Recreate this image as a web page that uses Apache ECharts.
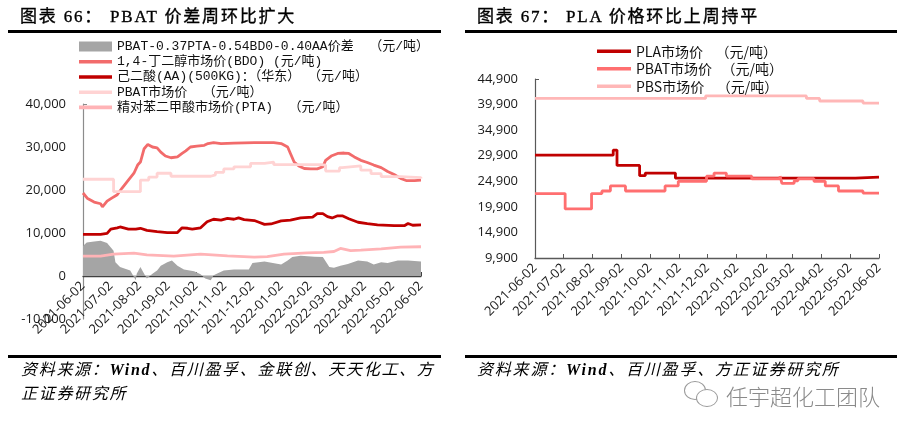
<!DOCTYPE html>
<html>
<head>
<meta charset="utf-8">
<script src="https://cdn.jsdelivr.net/npm/echarts@6/dist/echarts.min.js"></script>
<style>
html,body{margin:0;padding:0;background:#fff;}
#wrap{position:relative;width:908px;height:434px;overflow:hidden;}
#main{position:absolute;left:0;top:0;width:908px;height:434px;}
.tt{position:absolute;top:6px;font-family:"Liberation Serif","Noto Sans CJK SC",serif;font-size:17px;line-height:22px;color:#000;white-space:pre;letter-spacing:1.8px;-webkit-text-stroke:0.35px #000;}
.rule{position:absolute;height:3px;background:#000;}
.src{position:absolute;top:358px;font-family:"Liberation Serif","Noto Sans CJK SC",serif;font-style:italic;font-size:16px;line-height:24px;color:#000;white-space:pre;}
.wm{position:absolute;left:726px;top:381px;font-family:"Noto Sans CJK SC",sans-serif;font-weight:300;font-size:22px;line-height:28px;color:#8a8a8a;white-space:pre;}
.bub{position:absolute;border:1.2px solid #9a9a9a;border-radius:50%;background:#fff;}
</style>
</head>
<body>
<div id="wrap">
  <div id="main"></div>
  <div class="tt" style="left:20px">图表 66：</div>
  <div class="tt" style="left:110px">PBAT 价差周环比扩大</div>
  <div class="rule" style="left:8px;top:30px;width:433px"></div>
  <div class="tt" style="left:477px">图表 67：</div>
  <div class="tt" style="left:566px">PLA 价格环比上周持平</div>
  <div class="rule" style="left:465px;top:30px;width:432px"></div>
  <div class="rule" style="left:8px;top:355px;width:433px"></div>
  <div class="rule" style="left:465px;top:355px;width:432px"></div>
  <div class="src" style="left:21px;letter-spacing:1.7px">资料来源：<b>Wind</b>、百川盈孚、金联创、天天化工、方<br>正证券研究所</div>
  <div class="src" style="left:477px;letter-spacing:1.8px">资料来源：<b>Wind</b>、百川盈孚、方正证券研究所</div>
  <div class="bub" style="left:684px;top:381px;width:20px;height:17px"></div>
  <div class="bub" style="left:696px;top:389px;width:20px;height:16px"></div>
  <div class="wm">任宇超化工团队</div>
</div>
<script>
// axis ticks
var monthTicks = ['2021-06-02','2021-07-02','2021-08-02','2021-09-02','2021-10-02','2021-11-02',
  '2021-12-02','2022-01-02','2022-02-02','2022-03-02','2022-04-02','2022-05-02','2022-06-02'];
var leftYTicks = [-10000, 0, 10000, 20000, 30000, 40000];
var rightYTicks = [9900, 14900, 19900, 24900, 29900, 34900, 39900, 44900];

// 图表66
var spreadDates = ['2021-06-02','2021-06-06','2021-06-14','2021-06-21','2021-06-28','2021-07-05','2021-07-07','2021-07-12',
  '2021-07-23','2021-07-29','2021-07-30','2021-08-03','2021-08-07','2021-08-10','2021-08-16','2021-08-21','2021-08-25',
  '2021-09-01','2021-09-06','2021-09-12','2021-09-19','2021-09-30','2021-10-07','2021-10-12','2021-10-18','2021-10-21',
  '2021-11-01','2021-11-12','2021-11-28','2021-12-02','2021-12-15','2022-01-02','2022-01-09','2022-01-14','2022-01-23',
  '2022-02-07','2022-02-16','2022-02-23','2022-02-28','2022-03-07','2022-03-15','2022-03-26','2022-04-05','2022-04-12',
  '2022-04-20','2022-04-27','2022-05-08','2022-05-19','2022-06-02'];
var spreadValues = [7000,7800,8000,8200,7700,5900,3200,2100,1300,-1000,500,2100,500,-600,500,1300,2400,
  3200,3600,2400,1500,1100,400,-600,-1000,200,1300,1500,1500,3000,3400,2700,3600,4400,4700,
  4500,4400,2100,1900,2400,2800,3600,3400,2700,3200,3000,3600,3600,3400];

var bdoDates = ['2021-06-02','2021-06-07','2021-06-14','2021-06-21','2021-06-23','2021-06-28','2021-07-03','2021-07-09',
  '2021-07-14','2021-07-21','2021-07-27','2021-07-31','2021-08-03','2021-08-07','2021-08-11','2021-08-16','2021-08-21',
  '2021-08-25','2021-08-30','2021-09-05','2021-09-12','2021-09-17','2021-09-21','2021-09-26','2021-10-03','2021-10-11',
  '2021-10-15','2021-10-21','2021-10-29','2021-11-12','2021-12-04','2021-12-25','2022-01-02','2022-01-09','2022-01-12',
  '2022-01-16','2022-01-21','2022-01-27','2022-02-03','2022-02-10','2022-02-16','2022-02-19','2022-02-25','2022-03-04',
  '2022-03-11','2022-03-16','2022-03-22','2022-03-29','2022-04-05','2022-04-12','2022-04-20','2022-04-27','2022-05-04',
  '2022-05-11','2022-05-17','2022-05-26','2022-06-02'];
var bdoValues = [19300,18000,17200,16800,16100,17400,18100,18900,20400,22300,23900,25800,26500,29600,30600,30000,29800,
  28800,27900,27500,27700,28500,29100,30000,30200,30400,30800,31000,30800,30900,31000,31000,30800,30000,28500,
  26500,25600,25000,24900,24900,25400,26900,27900,28500,28600,28500,27700,26900,26400,25800,25200,24300,23600,
  22700,22200,22200,22300];

var aaDates = ['2021-06-02','2021-06-21','2021-06-28','2021-07-02','2021-07-09','2021-07-12','2021-07-21','2021-07-29',
  '2021-08-03','2021-08-10','2021-08-21','2021-09-01','2021-09-12','2021-09-17','2021-09-23','2021-09-28','2021-10-07',
  '2021-10-14','2021-10-21','2021-10-29','2021-11-05','2021-11-12','2021-11-17','2021-11-23','2021-12-04','2021-12-09',
  '2021-12-15','2021-12-22','2022-01-02','2022-01-12','2022-01-23','2022-02-05','2022-02-10','2022-02-16','2022-02-21',
  '2022-02-26','2022-03-04','2022-03-09','2022-03-16','2022-03-26','2022-04-05','2022-04-16','2022-05-04','2022-05-15',
  '2022-05-19','2022-05-24','2022-06-02'];
var aaValues = [9700,9700,9900,10900,11200,11400,10900,10900,11100,10600,10300,10100,10100,11200,11100,10900,11200,
  12600,13200,13000,13400,13200,13500,13100,12900,12500,12000,12100,12800,13000,13500,13700,14500,14500,13800,
  13500,14000,14000,13300,12500,12200,11900,11700,11700,12200,11800,11900];

var pbatLDates = ['2021-06-02','2021-07-05','2021-08-03','2021-08-12','2021-08-21','2021-09-05','2021-10-18','2021-10-23',
  '2021-11-01','2021-11-12','2021-11-30','2021-12-15','2021-12-25','2022-02-14','2022-02-19','2022-03-06','2022-03-09',
  '2022-03-29','2022-04-09','2022-04-20','2022-05-11','2022-06-02'];
var pbatLValues = [22500,19600,22300,23000,23900,23200,23500,24100,24900,25400,26200,26500,25900,25800,24400,25200,25600,
  24600,23800,23100,22900,22700];

var ptaDates = ['2021-06-02','2021-06-21','2021-07-05','2021-07-27','2021-08-10','2021-09-08','2021-10-07','2021-11-05',
  '2021-12-04','2021-12-18','2022-01-05','2022-01-30','2022-02-17','2022-02-28','2022-03-07','2022-03-18','2022-03-29',
  '2022-04-20','2022-05-11','2022-06-02'];
var ptaValues = [4600,4600,5100,5300,4900,4600,5100,4700,4400,4500,5100,5400,5500,5700,6400,5900,6000,6300,6700,6800];

// 图表67
var plaDates = ['2021-06-02','2021-08-24','2021-08-28','2021-09-21','2021-09-27','2021-10-29','2022-05-08','2022-06-02'];
var plaValues = [30000,31000,28000,26000,26500,25500,25700,25700];

var pbatRDates = ['2021-06-02','2021-07-04','2021-08-01','2021-08-12','2021-08-21','2021-09-06','2021-10-18','2021-11-01',
  '2021-12-01','2021-12-09','2021-12-22','2022-01-18','2022-02-17','2022-02-19','2022-03-04','2022-03-08','2022-03-25',
  '2022-04-06','2022-04-20','2022-05-16','2022-06-02'];
var pbatRValues = [22500,19500,22500,23000,24000,23000,24000,24900,25900,26500,25900,25400,25900,24500,25000,25400,24900,
  24000,23000,22600,22600];

var pbsDates = ['2021-06-02','2021-11-30','2022-03-17','2022-03-31','2022-05-16','2022-06-02'];
var pbsValues = [41100,41600,41100,40600,40200,40200];

var nSpread = 'PBAT-0.37PTA-0.54BD0-0.40AA价差  （元/吨）';
var nBdo = '1,4-丁二醇市场价(BDO) (元/吨)';
var nAa = '己二酸(AA)(500KG)：（华东） （元/吨）';
var nPbatL = 'PBAT市场价  （元/吨）';
var nPta = '精对苯二甲酸市场价(PTA)  （元/吨）';
var nPla = 'PLA市场价    （元/吨）';
var nPbatR = 'PBAT市场价   （元/吨）';
var nPbs = 'PBS市场价    （元/吨）';

function t(s) {
  return +echarts.time.parse(s);
}
function zip(d, v) {
  return d.map(function (x, i) { return [t(x), v[i]]; });
}
function thousands(v) {
  return Number(v).toLocaleString('en-US');
}

var tickTimes = monthTicks.map(t);
var labelFont = 'Open Sans';
var barIcon = 'path://M0,0L33,0L33,3.6L0,3.6Z';

function dateAxis(gi, color, offset) {
  return {
    type: 'value', gridIndex: gi, offset: offset,
    min: t('2021-06-02'), max: t('2022-06-02'),
    splitLine: {show: false},
    axisLine: {onZero: false, lineStyle: {color: color, width: 1.3}},
    axisTick: {show: true, inside: true, length: 4, customValues: tickTimes, lineStyle: {color: color}},
    axisLabel: {
      rotate: 45, margin: 8, fontSize: 13, color: '#1a1a1a', fontFamily: labelFont,
      customValues: tickTimes, hideOverlap: false,
      formatter: function (v) { return echarts.time.format(v, '{yyyy}-{MM}-{dd}', false); }
    }
  };
}
function valAxis(gi, min, max, ticks, color) {
  return {
    type: 'value', gridIndex: gi, min: min, max: max,
    splitLine: {show: false},
    axisLine: {show: true, lineStyle: {color: color, width: 1.2}},
    axisTick: {show: true, inside: true, length: 4, customValues: [max], lineStyle: {color: color}},
    axisLabel: {margin: 17, fontSize: 13, color: '#1a1a1a', fontFamily: labelFont,
      customValues: ticks, formatter: thousands}
  };
}
function line(name, data, color, xi, step, z) {
  return {
    name: name, type: 'line', xAxisIndex: xi, yAxisIndex: xi, data: data,
    symbol: 'none', step: step || false, z: z || 3,
    lineStyle: {color: color, width: 2.8}, itemStyle: {color: color}
  };
}

var myChart = echarts.init(document.getElementById('main'));
var option = {
  animation: false,
  grid: [
    {left: 83, top: 104, width: 338, height: 215, outerBoundsMode: 'none'},
    {left: 535, top: 79, width: 344, height: 179, outerBoundsMode: 'none'}
  ],
  legend: [
    {
      orient: 'vertical', left: 79, top: 39, padding: 0, itemWidth: 33, itemHeight: 10, itemGap: 0,
      selectedMode: false, symbolKeepAspect: true,
      textStyle: {fontSize: 13, lineHeight: 15.2, color: '#111', fontFamily: '"Liberation Mono", "Noto Sans CJK SC"'},
      data: [
        {name: nSpread, icon: 'rect'},
        {name: nBdo, icon: barIcon}, {name: nAa, icon: barIcon},
        {name: nPbatL, icon: barIcon}, {name: nPta, icon: barIcon}
      ]
    },
    {
      orient: 'vertical', left: 597, top: 43, padding: 0, itemWidth: 34, itemHeight: 10, itemGap: 1,
      selectedMode: false, symbolKeepAspect: true,
      textStyle: {fontSize: 14, lineHeight: 16.5, color: '#111', fontFamily: 'Noto Sans CJK SC'},
      data: [{name: nPla, icon: barIcon}, {name: nPbatR, icon: barIcon}, {name: nPbs, icon: barIcon}]
    }
  ],
  xAxis: [dateAxis(0, '#404040', -43), dateAxis(1, '#595959', 0)],
  yAxis: [
    valAxis(0, -10000, 40000, leftYTicks, '#8c8c8c'),
    valAxis(1, 9900, 44900, rightYTicks, '#595959')
  ],
  series: [
    {
      name: nSpread, type: 'line', xAxisIndex: 0, yAxisIndex: 0, data: zip(spreadDates, spreadValues),
      symbol: 'none', z: 2,
      lineStyle: {width: 0}, itemStyle: {color: '#a5a5a5'},
      areaStyle: {color: '#a5a5a5', opacity: 1, origin: 0}
    },
    line(nBdo, zip(bdoDates, bdoValues), '#f26b6b', 0),
    line(nAa, zip(aaDates, aaValues), '#c00000', 0),
    line(nPbatL, zip(pbatLDates, pbatLValues), '#ffd3d3', 0, 'end'),
    line(nPta, zip(ptaDates, ptaValues), '#ffb3b6', 0),
    line(nPla, zip(plaDates, plaValues), '#c00000', 1, 'end'),
    line(nPbatR, zip(pbatRDates, pbatRValues), '#ff6f70', 1, 'end'),
    line(nPbs, zip(pbsDates, pbsValues), '#ffb7b7', 1, 'end')
  ]
};
myChart.setOption(option);
</script>
</body>
</html>
